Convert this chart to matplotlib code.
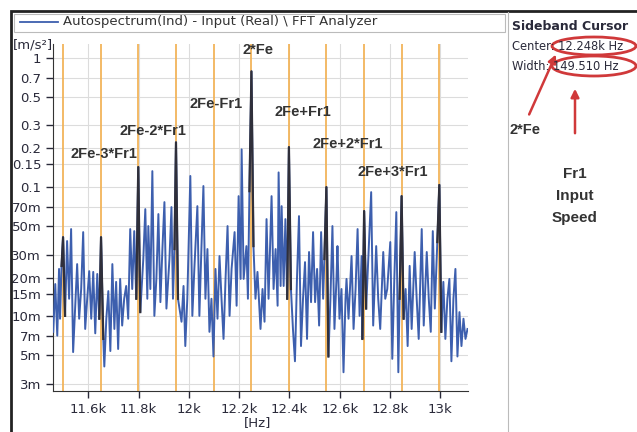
import numpy as np
import matplotlib.pyplot as plt
from matplotlib.patches import Rectangle, Ellipse, FancyArrowPatch
from matplotlib.lines import Line2D

# spectrum (Hz, m/s^2)
freq_hz = [11461, 11469, 11477, 11484, 11488, 11494, 11500, 11508, 11516, 11524,
           11532, 11540, 11548, 11556, 11564, 11572, 11580, 11588, 11596, 11604,
           11612, 11620, 11628, 11636, 11644, 11651, 11660, 11664, 11672, 11680,
           11688, 11696, 11704, 11711, 11719, 11727, 11735, 11743, 11751, 11759,
           11767, 11775, 11783, 11791, 11799, 11807, 11819, 11827, 11835, 11839,
           11847, 11855, 11863, 11871, 11879, 11887, 11895, 11903, 11911, 11923,
           11931, 11937, 11943, 11949, 11957, 11971, 11979, 11986, 11994, 12006,
           12014, 12022, 12034, 12042, 12050, 12058, 12066, 12074, 12082, 12090,
           12098, 12106, 12114, 12122, 12130, 12138, 12146, 12154, 12162, 12170,
           12182, 12190, 12198, 12206, 12210, 12218, 12229, 12235, 12241, 12249,
           12257, 12265, 12273, 12285, 12293, 12301, 12309, 12317, 12329, 12337,
           12345, 12353, 12357, 12365, 12369, 12377, 12384, 12391, 12398, 12406,
           12414, 12422, 12430, 12438, 12446, 12454, 12462, 12470, 12478, 12486,
           12494, 12502, 12510, 12518, 12526, 12534, 12539, 12547, 12555, 12563,
           12571, 12579, 12587, 12591, 12599, 12607, 12615, 12623, 12627, 12635,
           12647, 12655, 12663, 12671, 12679, 12687, 12690, 12697, 12705, 12717,
           12725, 12733, 12745, 12753, 12761, 12773, 12781, 12789, 12801, 12809,
           12817, 12825, 12833, 12838, 12846, 12854, 12862, 12870, 12878, 12886,
           12898, 12906, 12914, 12926, 12934, 12946, 12954, 12962, 12970, 12978,
           12988, 12996, 13004, 13012, 13020, 13028, 13036, 13044, 13052, 13060,
           13068, 13076, 13084, 13092, 13100, 13108]
amp = [0.0076, 0.0178, 0.0071, 0.0233, 0.0096, 0.0246, 0.041, 0.0101, 0.0383, 0.0137,
       0.0474, 0.0053, 0.0115, 0.0254, 0.0096, 0.0163, 0.0449, 0.0080, 0.0137, 0.0224,
       0.0096, 0.0221, 0.0074, 0.0213, 0.0096, 0.041, 0.0067, 0.0041, 0.0096, 0.0157,
       0.0054, 0.0254, 0.0080, 0.0185, 0.0056, 0.0195, 0.0085, 0.0137, 0.0172, 0.0096,
       0.0474, 0.0163, 0.0457, 0.0137, 0.143, 0.0108, 0.0278, 0.0676, 0.0137, 0.0500,
       0.0163, 0.133, 0.0101, 0.0195, 0.0619, 0.0129, 0.0332, 0.0766, 0.0115, 0.0278,
       0.0701, 0.0137, 0.0332, 0.222, 0.0137, 0.0091, 0.0172, 0.0059, 0.0137, 0.122,
       0.0101, 0.0233, 0.0713, 0.0101, 0.0332, 0.102, 0.0137, 0.0332, 0.0076, 0.0137,
       0.0049, 0.0233, 0.0096, 0.0293, 0.0137, 0.0067, 0.0195, 0.0500, 0.0101, 0.0233,
       0.0449, 0.0121, 0.0852, 0.0195, 0.196, 0.0195, 0.0350, 0.0137, 0.0931, 0.786,
       0.0350, 0.0137, 0.0221, 0.0080, 0.0163, 0.0091, 0.0566, 0.0137, 0.0852, 0.0163,
       0.0332, 0.0121, 0.130, 0.0172, 0.0713, 0.0172, 0.0566, 0.0137, 0.204, 0.0163,
       0.0080, 0.0045, 0.0195, 0.0597, 0.0059, 0.0137, 0.0263, 0.0067, 0.0315, 0.0129,
       0.0449, 0.0129, 0.0233, 0.0085, 0.0449, 0.0137, 0.0278, 0.100, 0.0049, 0.0137,
       0.0500, 0.0080, 0.0195, 0.0350, 0.0096, 0.0163, 0.0037, 0.0137, 0.0195, 0.0096,
       0.0293, 0.0080, 0.0163, 0.0474, 0.0101, 0.0293, 0.0067, 0.0653, 0.0115, 0.0396,
       0.0915, 0.0085, 0.0350, 0.0137, 0.0080, 0.0315, 0.0137, 0.0163, 0.0376, 0.0047,
       0.0195, 0.0641, 0.0037, 0.0137, 0.0852, 0.0096, 0.0163, 0.0059, 0.0246, 0.0080,
       0.0315, 0.0137, 0.0067, 0.0474, 0.0085, 0.0315, 0.0137, 0.0076, 0.0457, 0.0115,
       0.0376, 0.104, 0.0076, 0.0185, 0.0067, 0.0137, 0.0195, 0.0045, 0.0137, 0.0233,
       0.0049, 0.0108, 0.0059, 0.0096, 0.0067, 0.0080]

center_hz = 12248.0
width_hz = 149.510
orders = list(range(-5, 6))

yticks = [0.003, 0.005, 0.007, 0.01, 0.015, 0.02, 0.03, 0.05, 0.07,
          0.1, 0.15, 0.2, 0.3, 0.5, 0.7, 1]
ytick_labels = ['3m', '5m', '7m', '10m', '15m', '20m', '30m', '50m', '70m',
                '0.1', '0.15', '0.2', '0.3', '0.5', '0.7', '1']
xticks = [11600, 11800, 12000, 12200, 12400, 12600, 12800, 13000]
xtick_labels = ['11.6k', '11.8k', '12k', '12.2k', '12.4k', '12.6k', '12.8k', '13k']

# (label, freq, amplitude) for the sideband names
labels = ['2*Fe', '2Fe-Fr1', '2Fe-2*Fr1', '2Fe-3*Fr1', '2Fe+Fr1', '2Fe+2*Fr1', '2Fe+3*Fr1']
label_freq = [12277, 12110, 11859, 11664, 12453, 12632, 12811]
label_amp = [1.16, 0.437, 0.271, 0.180, 0.379, 0.215, 0.131]

W, H = 637, 432
fig = plt.figure(figsize=(W / 100, H / 100), dpi=100)


def fx(x):
    return x / W


def fy(y):
    return 1 - y / H


ax = fig.add_axes([fx(53), fy(391), fx(468) - fx(53), fy(44) - fy(391)])
ax.set_yscale('log')
ax.set_xlim(11460, 13110)
ax.set_ylim(0.00265, 1.28)

f = np.array(freq_hz)
a = np.array(amp)

cursor_freqs = [center_hz + k * width_hz for k in orders]
for c in cursor_freqs:
    ax.axvline(c, color='#f2b45a', lw=1.3, zorder=2)

ax.plot(f, a, color='#3d5fae', lw=1.4, zorder=3)

# cursor peaks drawn dark
for c in cursor_freqs:
    i = int(np.argmin(np.abs(f - c)))
    if i == 0 or i == len(f) - 1:
        continue
    if a[i] > a[i - 1] and a[i] > a[i + 1]:
        ax.plot(f[i - 1:i + 2], a[i - 1:i + 2], color='#2f2f3a', lw=1.6, zorder=4)

ax.set_yticks(yticks)
ax.set_yticklabels(ytick_labels)
ax.yaxis.set_minor_locator(plt.NullLocator())
ax.set_xticks(xticks)
ax.set_xticklabels(xtick_labels)
ax.tick_params(axis='both', labelsize=9.5, colors='#2a2a3a', length=5, width=1)
ax.grid(True, color='#dcdcdc', lw=0.8)
for s in ['top', 'right']:
    ax.spines[s].set_visible(False)
for s in ['left', 'bottom']:
    ax.spines[s].set_color('#333333')

fig.text(fx(258), fy(423), '[Hz]', ha='center', va='center', fontsize=9.5, color='#2a2a3a')
fig.text(fx(13), fy(45), '[m/s²]', ha='left', va='center', fontsize=9.5, color='#2a2a3a')

for t, lf, la in zip(labels, label_freq, label_amp):
    ax.text(lf, la, t, ha='center', va='center', fontsize=10.5, fontweight='bold',
            family='Liberation Sans', color='#333333', zorder=5)

# frame, legend strip, side panel
fig.add_artist(Rectangle((fx(11), fy(440)), 1, fy(11) - fy(440), fill=False,
                         ec='#222222', lw=2, transform=fig.transFigure))
fig.add_artist(Rectangle((fx(14), fy(32)), fx(505) - fx(14), fy(14) - fy(32), fill=False,
                         ec='#bbbbbb', lw=0.8, transform=fig.transFigure))
fig.add_artist(Line2D([fx(20), fx(58)], [fy(22), fy(22)], color='#3d5fae', lw=1.3,
                      transform=fig.transFigure))
fig.text(fx(63), fy(22), r'Autospectrum(Ind) - Input (Real) \ FFT Analyzer', ha='left',
         va='center', fontsize=9.5, color='#333333')
fig.add_artist(Line2D([fx(508), fx(508)], [fy(12), 0], color='#bbbbbb', lw=0.8,
                      transform=fig.transFigure))

fig.text(fx(512), fy(27), 'Sideband Cursor', ha='left', va='center', fontsize=9,
         fontweight='bold', color='#2a2a3a')
fig.text(fx(512), fy(46), 'Center: 12.248k Hz', ha='left', va='center', fontsize=8.3,
         color='#2a2a3a')
fig.text(fx(512), fy(66), 'Width: 149.510 Hz', ha='left', va='center', fontsize=8.3,
         color='#2a2a3a')

red = '#d0393a'
fig.add_artist(Ellipse((fx(594), fy(46)), fx(84), 18 / H, fill=False, ec=red, lw=2,
                       transform=fig.transFigure))
fig.add_artist(Ellipse((fx(594), fy(66)), fx(84), 20 / H, fill=False, ec=red, lw=2,
                       transform=fig.transFigure))
fig.add_artist(FancyArrowPatch((fx(528), fy(117)), (fx(557), fy(52)), arrowstyle='-|>',
                               mutation_scale=12, color=red, lw=1.8,
                               transform=fig.transFigure))
fig.add_artist(FancyArrowPatch((fx(575), fy(136)), (fx(575), fy(86)), arrowstyle='-|>',
                               mutation_scale=12, color=red, lw=1.8,
                               transform=fig.transFigure))
fig.text(fx(525), fy(130), '2*Fe', ha='center', va='center', fontsize=10.5,
         fontweight='bold', family='Liberation Sans', color='#333333')
for txt, yy in zip(['Fr1', 'Input', 'Speed'], [174, 196, 218]):
    fig.text(fx(575), fy(yy), txt, ha='center', va='center', fontsize=11,
             fontweight='bold', family='Liberation Sans', color='#333333')

fig.savefig('out.png', dpi=100)
